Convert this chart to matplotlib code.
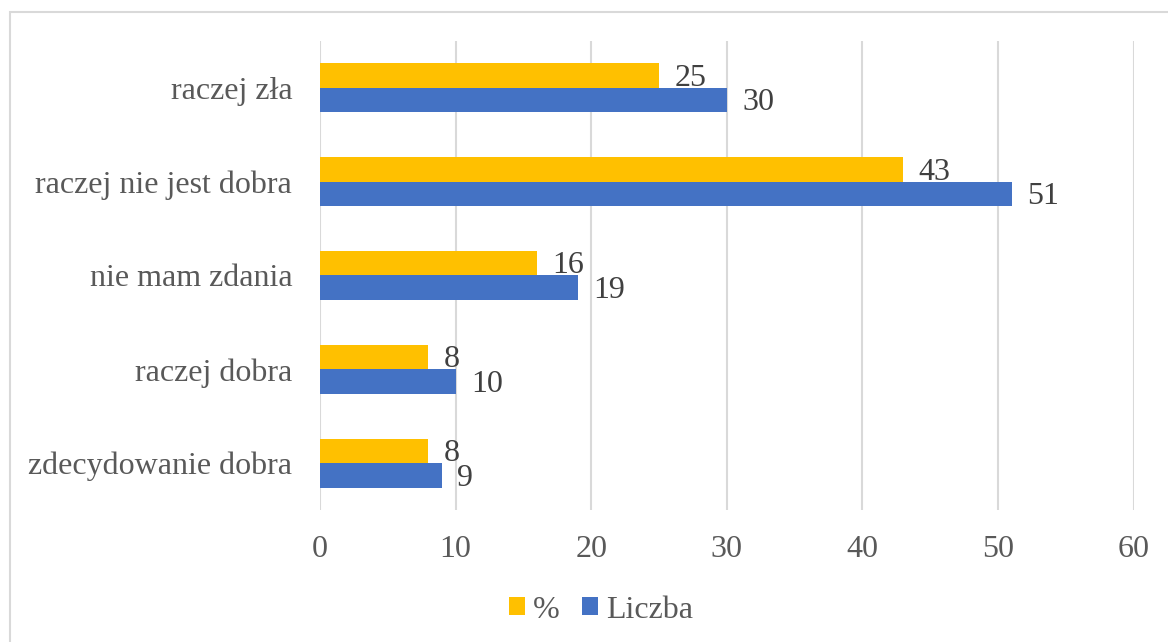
import matplotlib.pyplot as plt
import numpy as np
from matplotlib.patches import Rectangle

# Data (bottom to top, as drawn)
categories = ["zdecydowanie dobra", "raczej dobra", "nie mam zdania",
              "raczej nie jest dobra", "raczej zła"]
percent = [8, 8, 16, 43, 25]
count = [9, 10, 19, 51, 30]
xticks = [0, 10, 20, 30, 40, 50, 60]

plt.rcParams["font.family"] = ["Liberation Serif", "DejaVu Serif"]

fig = plt.figure(figsize=(11.68, 6.42), dpi=100)
ax = fig.add_axes([320 / 1168, 1 - 510 / 642, (1133.6 - 320) / 1168, 469 / 642])

# Chart border (cropped at right and bottom like the source)
fig.patches.append(Rectangle((10 / 1168, -0.05), 1.2, (642 - 12) / 642 + 0.05,
                             transform=fig.transFigure, fill=False,
                             edgecolor="#d9d9d9", linewidth=1.5))

y = np.arange(len(categories))
h = 0.262
ax.barh(y + h / 2, percent, height=h, color="#FFC000", label="%", zorder=3)
ax.barh(y - h / 2, count, height=h, color="#4472C4", label="Liczba", zorder=3)

# Data labels, just past the bar end
for yi, p, c in zip(y, percent, count):
    ax.annotate(str(p), (p, yi + h / 2), xytext=(11, -2), textcoords="offset points",
                va="center", ha="left", fontsize=23, color="#404040")
    ax.annotate(str(c), (c, yi - h / 2), xytext=(11, -2), textcoords="offset points",
                va="center", ha="left", fontsize=23, color="#404040")

ax.set_xlim(0, 60)
ax.set_ylim(-0.5, 4.5)
ax.set_xticks(xticks)
ax.set_yticks(y)
ax.set_yticklabels(categories)
ax.tick_params(axis="both", length=0, labelsize=23, labelcolor="#595959")
ax.tick_params(axis="x", pad=18)
ax.tick_params(axis="y", pad=20)
ax.grid(axis="x", color="#d9d9d9", linewidth=1.5, zorder=0)
for s in ax.spines.values():
    s.set_visible(False)

fig.legend(loc="center", bbox_to_anchor=(601 / 1168, 1 - 610 / 642), ncol=2,
           frameon=False, fontsize=23, labelcolor="#595959",
           handlelength=0.5, handleheight=0.5, handletextpad=0.25, columnspacing=0.7)

fig.savefig("out.png", dpi=100)
